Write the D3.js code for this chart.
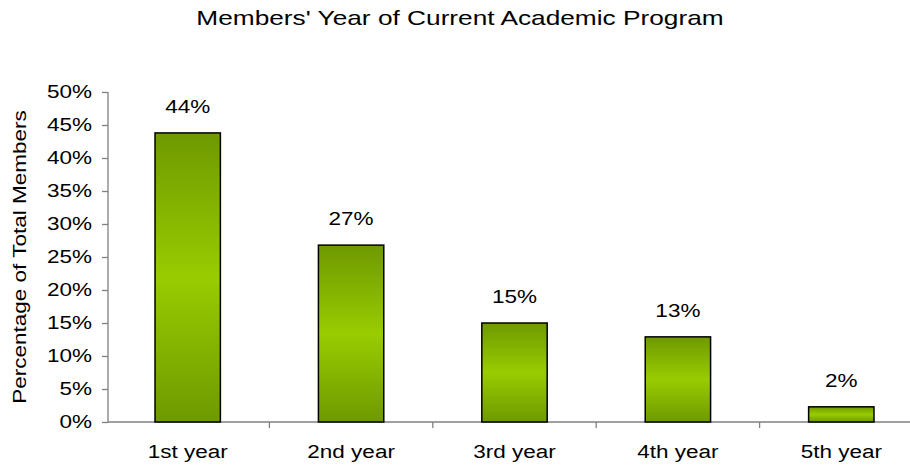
<!DOCTYPE html>
<html>
<head>
<meta charset="utf-8">
<script src="https://cdn.jsdelivr.net/npm/d3@7"></script>
<style>
  body { margin: 0; background: #fff; }
  text { font-family: "Liberation Sans", Arial, sans-serif; fill: #000; }
  .axis path, .axis line { stroke: #808080; stroke-width: 1.3; }
</style>
</head>
<body>
<div id="chart"></div>
<script>
// data
const categories = ["1st year", "2nd year", "3rd year", "4th year", "5th year"];
const values = [43.8, 26.8, 15.0, 12.9, 2.3];
const labels = ["44%", "27%", "15%", "13%", "2%"];
const yTicks = [0, 5, 10, 15, 20, 25, 30, 35, 40, 45, 50];

const W = 910, H = 467;
const margin = {top: 92, left: 108, bottom: 45};
const bandLeft = 106, plotRight = 923; // plot area runs past the right edge

const svg = d3.select("#chart").append("svg")
  .attr("width", W).attr("height", H);

const defs = svg.append("defs");
const grad = defs.append("linearGradient")
  .attr("id", "barGrad").attr("x1", 0).attr("y1", 0).attr("x2", 0).attr("y2", 1);
grad.append("stop").attr("offset", "0%").attr("stop-color", "#6f9900");
grad.append("stop").attr("offset", "50%").attr("stop-color", "#99cc00");
grad.append("stop").attr("offset", "100%").attr("stop-color", "#6f9900");

const x = d3.scaleBand().domain(categories).range([bandLeft, plotRight]).padding(0);
const y = d3.scaleLinear().domain([0, 50]).range([H - margin.bottom, margin.top]);

// title
svg.append("text")
  .attr("x", 460).attr("y", 25)
  .attr("text-anchor", "middle")
  .style("font-size", "21px")
  .text("Members' Year of Current Academic Program");

// y axis
const yAxis = d3.axisLeft(y).tickValues(yTicks).tickSize(6).tickPadding(10)
  .tickFormat(d => d + "%");
const gy = svg.append("g").attr("class", "axis")
  .attr("transform", "translate(" + margin.left + ",0)")
  .call(yAxis);
gy.select(".domain").attr("d", "M0," + y(50) + "V" + y(0));
gy.selectAll("text").style("font-size", "18px");

// x axis
const xAxis = d3.axisBottom(x).tickSize(0).tickPadding(23);
const gx = svg.append("g").attr("class", "axis")
  .attr("transform", "translate(0," + y(0) + ")")
  .call(xAxis);
gx.select(".domain").attr("d", "M" + margin.left + ",0H" + plotRight);
gx.selectAll("text").style("font-size", "18px");
// category separator ticks
gx.selectAll(".sep").data(categories.slice(1))
  .enter().append("line")
  .attr("x1", d => x(d)).attr("x2", d => x(d))
  .attr("y1", 0).attr("y2", 6)
  .attr("stroke", "#808080").attr("stroke-width", 1.3);

// y label
svg.append("text")
  .attr("transform", "translate(26," + ((y(0) + y(50)) / 2) + ") rotate(-90)")
  .attr("text-anchor", "middle")
  .style("font-size", "18px")
  .text("Percentage of Total Members");

// bars
const bw = x.bandwidth() * 0.4;
svg.selectAll(".bar").data(values)
  .enter().append("rect")
  .attr("class", "bar")
  .attr("x", (d, i) => x(categories[i]) + x.bandwidth() / 2 - bw / 2)
  .attr("y", d => y(d))
  .attr("width", bw)
  .attr("height", d => y(0) - y(d))
  .attr("fill", "url(#barGrad)")
  .attr("stroke", "#000")
  .attr("stroke-width", 1.5);

// value labels
svg.selectAll(".lbl").data(values)
  .enter().append("text")
  .attr("class", "lbl")
  .attr("x", (d, i) => x(categories[i]) + x.bandwidth() / 2)
  .attr("y", d => y(d) - 20)
  .attr("text-anchor", "middle")
  .style("font-size", "18px")
  .text((d, i) => labels[i]);

// the original font renders wider than Liberation Sans: stretch glyphs a bit
svg.selectAll("text").each(function() {
  const len = this.getComputedTextLength();
  d3.select(this).attr("textLength", len * 1.25).attr("lengthAdjust", "spacingAndGlyphs");
});
</script>
</body>
</html>
